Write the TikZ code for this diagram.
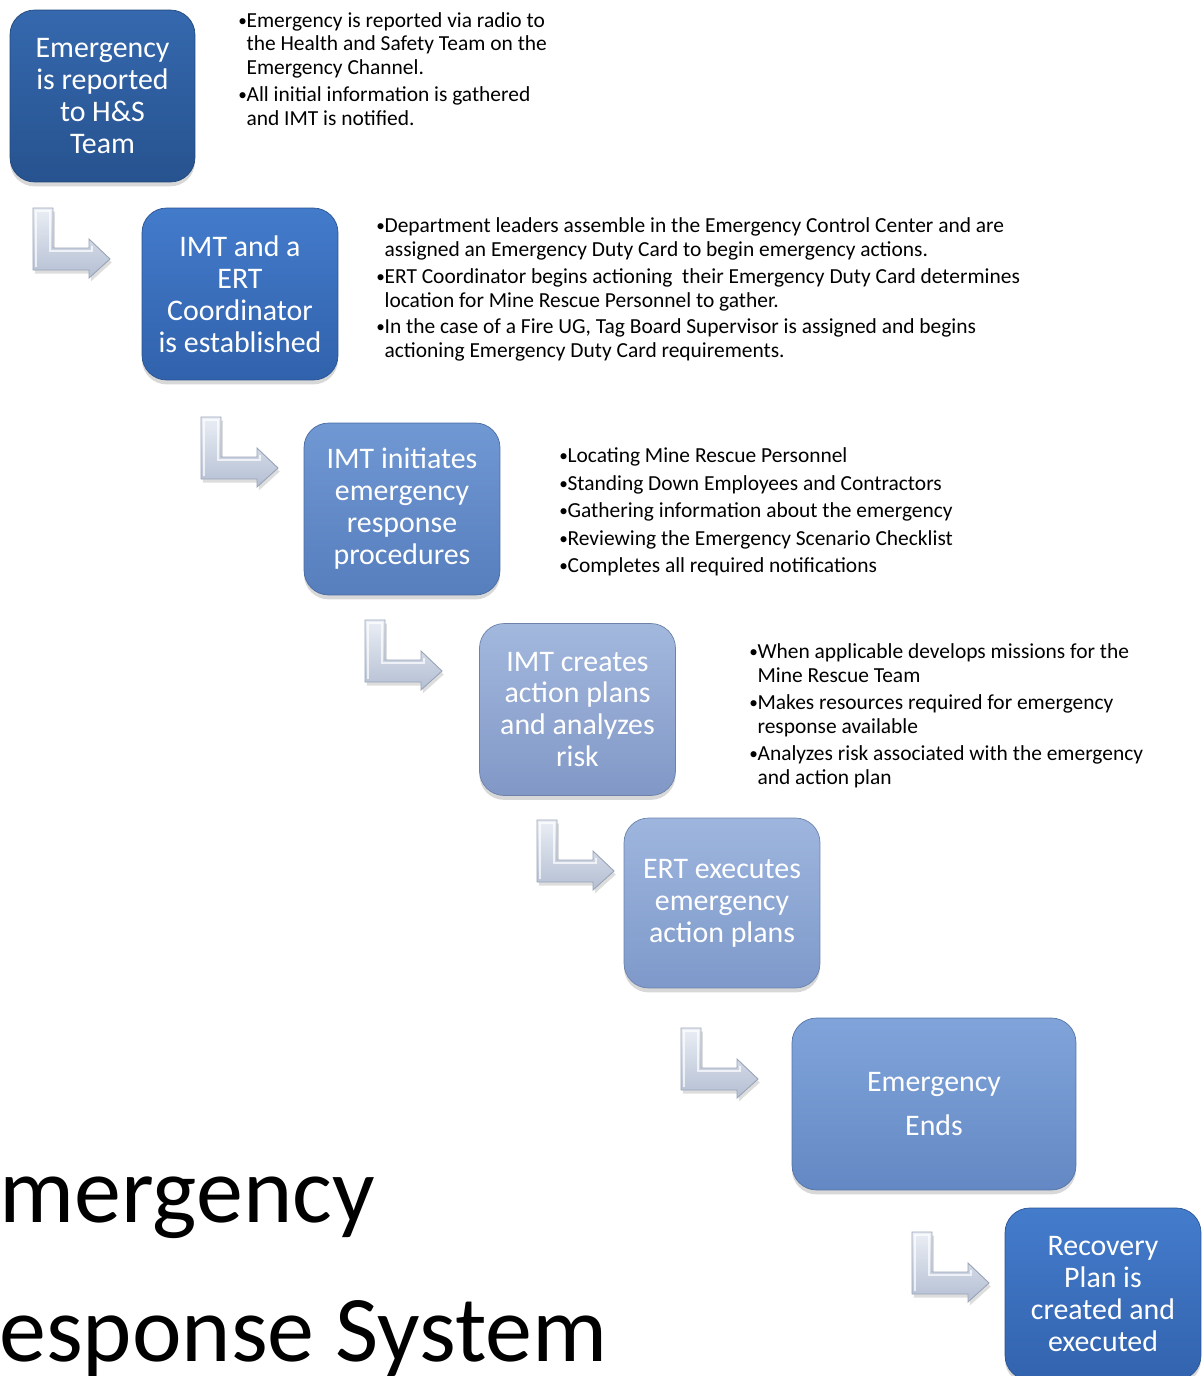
\documentclass[tikz,border=0pt]{standalone}
\usepackage{fontspec}
\setmainfont{Carlito}
\usetikzlibrary{shadows}
\definecolor{bAt}{HTML}{3568AE}\definecolor{bAb}{HTML}{27538F}
\definecolor{bBt}{HTML}{437BCB}\definecolor{bBb}{HTML}{3162AC}
\definecolor{bCt}{HTML}{7098D3}\definecolor{bCb}{HTML}{577EBD}
\definecolor{bDt}{HTML}{A3B8DD}\definecolor{bDb}{HTML}{8198C7}
\definecolor{bEt}{HTML}{9EB6DE}\definecolor{bEb}{HTML}{7E99CA}
\definecolor{bFt}{HTML}{80A4DA}\definecolor{bFb}{HTML}{6488C3}
\definecolor{bGt}{HTML}{447CCC}\definecolor{bGb}{HTML}{3263AE}
\definecolor{arrT}{HTML}{EAEEF5}\definecolor{arrB}{HTML}{B4BFD3}
\definecolor{arrE}{HTML}{98A3B6}
\newcommand\ElbowArrow[3]{%
  \begin{scope}[shift={(#2,#3)}]
    \draw[elbow] (0,0) coordinate (#1) -- (20,0) -- (20,40) -- (56,40) -- (56,31) -- (77,51) -- (56,70) -- (56,62) -- (0,62) -- cycle;
    \draw[white, opacity=.7, line width=0.6pt] (3,59) -- (3,3) -- (17,3) -- (17,43) -- (59,43) -- (59,38);
  \end{scope}}
\newcommand\bl{\makebox[4.7pt][l]{\raisebox{0.4pt}{\fontsize{9.8}{9.8}\selectfont\textbullet}}}
\newcommand\ind{\hspace*{4.7pt}}
\begin{document}
\begin{tikzpicture}[x=0.02cm,y=-0.02cm,
  box/.style={rounded corners=14pt, inner sep=0pt, align=center, text=white,
    minimum width=3.92cm, minimum height=3.44cm,
    font=\fontsize{17}{18.2}\selectfont,
    drop shadow={shadow xshift=0pt, shadow yshift=-2.5pt, opacity=.22, fill=black!70}},
  elbow/.style={top color=arrT, bottom color=arrB, draw=arrE, line width=0.5pt,
    drop shadow={shadow xshift=1pt, shadow yshift=-2pt, opacity=.22, fill=black!60}},
  bul/.style={anchor=base west, inner sep=0pt, align=left, font=\fontsize{12.2}{13.3}\selectfont},
  ttl/.style={anchor=base west, inner sep=0pt, font=\fontsize{53.5}{60}\selectfont}]
\useasboundingbox (0,0) rectangle (1202,1376);
\clip (0,0) rectangle (1202,1376);

% boxes
\node[box, minimum width=3.70cm, top color=bAt, bottom color=bAb, draw=bAb!85!black] (s1) at (102.5,96) {Emergency\\is reported\\to H\&S\\Team};
\node[box, top color=bBt, bottom color=bBb, draw=bBb!85!black] (s2) at (240,294) {IMT and a\\ERT\\Coordinator\\is established};
\node[box, top color=bCt, bottom color=bCb, draw=bCb!85!black] (s3) at (402,509) {IMT initiates\\emergency\\response\\procedures};
\node[box, top color=bDt, bottom color=bDb, draw=bDb!85!black] (s4) at (577.5,709.5) {IMT creates\\action plans\\and analyzes\\risk};
\node[box, minimum height=3.40cm, top color=bEt, bottom color=bEb, draw=bEb!85!black] (s5) at (722,903) {ERT executes\\emergency\\action plans};
\node[box, minimum width=5.68cm, top color=bFt, bottom color=bFb, draw=bFb!85!black, font=\fontsize{17}{25.5}\selectfont] (s6) at (934,1104) {Emergency\\Ends};
\node[box, top color=bGt, bottom color=bGb, draw=bGb!85!black] (s7) at (1103,1294) {Recovery\\Plan is\\created and\\executed};

% elbow arrows
\ElbowArrow{a1}{33}{208}
\ElbowArrow{a2}{201}{417}
\ElbowArrow{a3}{365}{620}
\ElbowArrow{a4}{537}{820}
\ElbowArrow{a5}{681}{1028}
\ElbowArrow{a6}{912}{1232}

% bullet texts (anchor = baseline of the last line)
\node[bul] (t1a) at (238,74) {\bl Emergency is reported via radio to\\\ind the Health and Safety Team on the\\\ind Emergency Channel.};
\node[bul] (t1b) at (238,125) {\bl All initial information is gathered\\\ind and IMT is notified.};

\node[bul] (t2a) at (376,256) {\bl Department leaders assemble in the Emergency Control Center and are\\\ind assigned an Emergency Duty Card to begin emergency actions.};
\node[bul] (t2b) at (376,307) {\bl ERT Coordinator begins actioning\ \ their Emergency Duty Card determines\\\ind location for Mine Rescue Personnel to gather.};
\node[bul] (t2c) at (376,357) {\bl In the case of a Fire UG, Tag Board Supervisor is assigned and begins\\\ind actioning Emergency Duty Card requirements.};

\node[bul] (t3a) at (559,462) {\bl Locating Mine Rescue Personnel};
\node[bul] (t3b) at (559,490) {\bl Standing Down Employees and Contractors};
\node[bul] (t3c) at (559,517) {\bl Gathering information about the emergency};
\node[bul] (t3d) at (559,545) {\bl Reviewing the Emergency Scenario Checklist};
\node[bul] (t3e) at (559,572) {\bl Completes all required notifications};

\node[bul] (t4a) at (749,682) {\bl When applicable develops missions for the\\\ind Mine Rescue Team};
\node[bul] (t4b) at (749,733) {\bl Makes resources required for emergency\\\ind response available};
\node[bul] (t4c) at (749,784) {\bl Analyzes risk associated with the emergency\\\ind and action plan};

% title (cut off at the left edge)
\node[ttl] (title1) at (-1,1222) {mergency};
\node[ttl] (title2) at (-1,1361) {esponse System};
\end{tikzpicture}
\end{document}
